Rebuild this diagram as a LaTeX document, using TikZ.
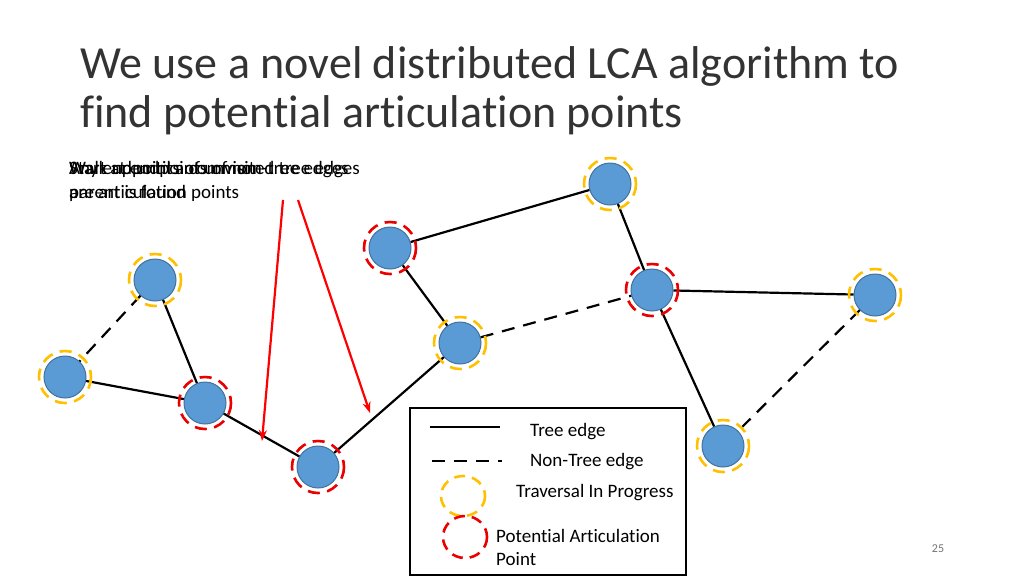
\documentclass[tikz,border=0pt]{standalone}
\usepackage{fontspec}
\setmainfont{Carlito}[Ligatures=NoCommon]
\usepackage{tikz}
\usetikzlibrary{arrows.meta}
\definecolor{nodeBlue}{RGB}{91,155,213}
\definecolor{nodeBorder}{RGB}{65,113,156}
\definecolor{progressColor}{RGB}{255,192,0}
\definecolor{pointColor}{RGB}{235,0,0}

\begin{document}
\begin{tikzpicture}[x=1pt,y=-1pt]

            \tikzstyle{vertex} = [circle, fill=nodeBlue, draw=nodeBorder, line width=1pt, minimum size=42pt, inner sep=0pt];
            \tikzstyle{treeEdge} = [line width=2.2pt];
            \tikzstyle{nonTreeEdge} = [line width=2.2pt, dash pattern=on 13pt off 9pt];
            \tikzstyle{progressRing} = [line width=2.6pt, progressColor, dash pattern=on 12pt off 7.5pt];
            \tikzstyle{pointRing} = [line width=2.6pt, pointColor, dash pattern=on 12pt off 7.5pt];
            \tikzstyle{hint} = [line width=2.2pt, red, -{Stealth[length=11pt,width=8pt]}];
            \tikzstyle{body} = [anchor=base west, inner sep=0pt, font=\fontsize{19}{23}\selectfont];
            \tikzstyle{heading} = [anchor=base west, inner sep=0pt, font=\fontsize{46}{52}\selectfont, text=black!80];

            \useasboundingbox (0,0) rectangle (1024,576);

            % title
            \node[heading] (title1) at (80,78) {We use a novel distributed LCA algorithm to};
            \node[heading] (title2) at (80,127) {find potential articulation points};

            % overlapping animation texts
            \node[body] (start1) at (69,174) {Start at endpoints of non-tree edges};
            \node[body] (any1) at (69,174) {Any endpoints of unvisited tree edges};
            \node[body] (any2) at (69,198) {are articulation points};
            \node[body] (walk1) at (69,174) {Walk up until a common};
            \node[body] (walk2) at (69,198) {parent is found};

            % graph
            \node[vertex] (a) at (155,280) {};
            \node[vertex] (b) at (65,377) {};
            \node[vertex] (c) at (205,403) {};
            \node[vertex] (d) at (318,467) {};
            \node[vertex] (e) at (390,248) {};
            \node[vertex] (f) at (460,343) {};
            \node[vertex] (g) at (610,184) {};
            \node[vertex] (h) at (652,290) {};
            \node[vertex] (i) at (875,295) {};
            \node[vertex] (j) at (723,446) {};

            \draw[nonTreeEdge] (a) -- (b);
            \draw[treeEdge] (a) -- (c);
            \draw[treeEdge] (b) -- (c);
            \draw[treeEdge] (c) -- (d);
            \draw[treeEdge] (d) -- (f);
            \draw[treeEdge] (e) -- (f);
            \draw[treeEdge] (e) -- (g);
            \draw[treeEdge] (g) -- (h);
            \draw[nonTreeEdge] (f) -- (h);
            \draw[treeEdge] (h) -- (i);
            \draw[treeEdge] (h) -- (j);
            \draw[nonTreeEdge] (i) -- (j);

            \draw[progressRing] (a) circle (26);
            \draw[progressRing] (b) circle (26);
            \draw[progressRing] (f) circle (26);
            \draw[progressRing] (g) circle (26);
            \draw[progressRing] (i) circle (26);
            \draw[progressRing] (j) circle (26);
            \draw[pointRing] (c) circle (26);
            \draw[pointRing] (d) circle (26);
            \draw[pointRing] (e) circle (26);
            \draw[pointRing] (h) circle (26);

            % arrows from the text
            \coordinate (hintL) at (283,200);
            \coordinate (hintR) at (298,200);
            \coordinate (tipL) at (262,441);
            \coordinate (tipR) at (370,413);
            \draw[hint] (hintL) -- (tipL);
            \draw[hint] (hintR) -- (tipR);

            % legend
            \node[draw, line width=2pt, minimum width=276pt, minimum height=167pt, anchor=north west, inner sep=0pt] (legend) at (409,407) {};
            \coordinate (treeL) at (430,427);
            \coordinate (treeR) at (500,427);
            \coordinate (nonL) at (432,461);
            \coordinate (nonR) at (502,461);
            \draw[treeEdge] (treeL) -- (treeR);
            \draw[nonTreeEdge] (nonL) -- (nonR);
            \node[body] (treeText) at (530,436) {Tree edge};
            \node[body] (nonText) at (530,466) {Non-Tree edge};
            \node[circle, inner sep=0pt, minimum size=1pt] (progressKey) at (463,496) {};
            \node[circle, inner sep=0pt, minimum size=1pt] (pointKey) at (465,537) {};
            \draw[progressRing, dash pattern=on 11pt off 7pt] (progressKey) ellipse (22 and 20);
            \draw[pointRing, dash pattern=on 11pt off 7pt] (pointKey) ellipse (22 and 21);
            \node[body] (progressText) at (516,497) {Traversal In Progress};
            \node[body] (pointText1) at (496,542) {Potential Articulation};
            \node[body] (pointText2) at (496,565) {Point};

            % page number
            \node[font=\fontsize{12}{14}\selectfont, text=black!55, inner sep=0pt] (pageNum) at (938,549) {25};
          \end{tikzpicture}
\end{document}
